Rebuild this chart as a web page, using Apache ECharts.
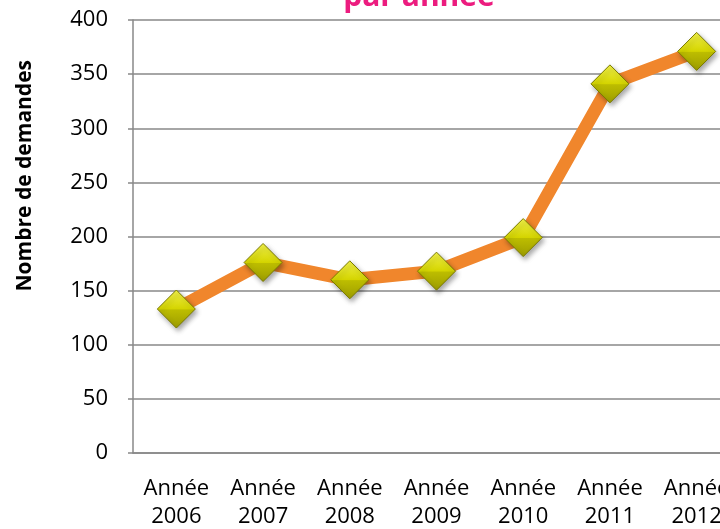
<!DOCTYPE html>
<html>
<head>
<meta charset="utf-8">
<script src="https://cdn.jsdelivr.net/npm/echarts@6/dist/echarts.min.js"></script>
<style>
  html, body { margin: 0; padding: 0; background: #fff; }
  #main { width: 720px; height: 529px; }
</style>
</head>
<body>
<div id="main"></div>
<script>
const years = ['Année\n2006', 'Année\n2007', 'Année\n2008', 'Année\n2009', 'Année\n2010', 'Année\n2011', 'Année\n2012'];
const demandes = [133, 176, 160, 168, 199, 341, 371];
const yTicks = { min: 0, max: 400, interval: 50 };

const chart = echarts.init(document.getElementById('main'));
const font = '"Open Sans", "Noto Sans", sans-serif';

const option = {
  backgroundColor: '#fff',
  animation: false,
  title: {
    text: 'par année',
    left: 414,
    top: -23,
    textAlign: 'center',
    textStyle: { color: '#EC1C7F', fontSize: 30, fontWeight: 'bold', fontFamily: font }
  },
  graphic: [{
    type: 'text',
    left: 15,
    top: 60,
    rotation: Math.PI / 2,
    style: {
      text: 'Nombre de demandes',
      fill: '#000',
      font: 'bold 21px ' + font
    }
  }],
  grid: { left: 133, top: 20, bottom: 76, width: 607, containLabel: false, outerBoundsMode: 'none' },
  xAxis: {
    type: 'category',
    data: years,
    boundaryGap: true,
    axisLine: { lineStyle: { color: '#888', width: 1.5 } },
    axisTick: { show: false },
    axisLabel: { color: '#000', fontSize: 22, fontFamily: font, margin: 22, lineHeight: 28, interval: 0 }
  },
  yAxis: {
    type: 'value',
    min: yTicks.min,
    max: yTicks.max,
    interval: yTicks.interval,
    axisLine: { show: true, lineStyle: { color: '#888', width: 1.5 } },
    axisTick: { show: true, length: 5, lineStyle: { color: '#888', width: 1.5 } },
    axisLabel: { color: '#000', fontSize: 22, fontFamily: font, margin: 25 },
    splitLine: { lineStyle: { color: '#888', width: 1.5 } }
  },
  series: [{
    name: 'demandes',
    type: 'line',
    data: demandes,
    symbol: 'diamond',
    symbolSize: 38,
    lineStyle: { color: '#F0862C', width: 13 },
    itemStyle: {
      color: new echarts.graphic.LinearGradient(0, 0, 0, 1, [
        { offset: 0, color: '#F2F24A' },
        { offset: 0.5, color: '#D4D400' },
        { offset: 0.52, color: '#BDBD00' },
        { offset: 1, color: '#9C9C00' }
      ]),
      borderColor: '#7A7A00',
      borderWidth: 1,
      shadowColor: 'rgba(0,0,0,0.35)',
      shadowBlur: 5,
      shadowOffsetX: 2,
      shadowOffsetY: 3
    },
    z: 3
  }]
};

chart.setOption(option);
</script>
</body>
</html>
